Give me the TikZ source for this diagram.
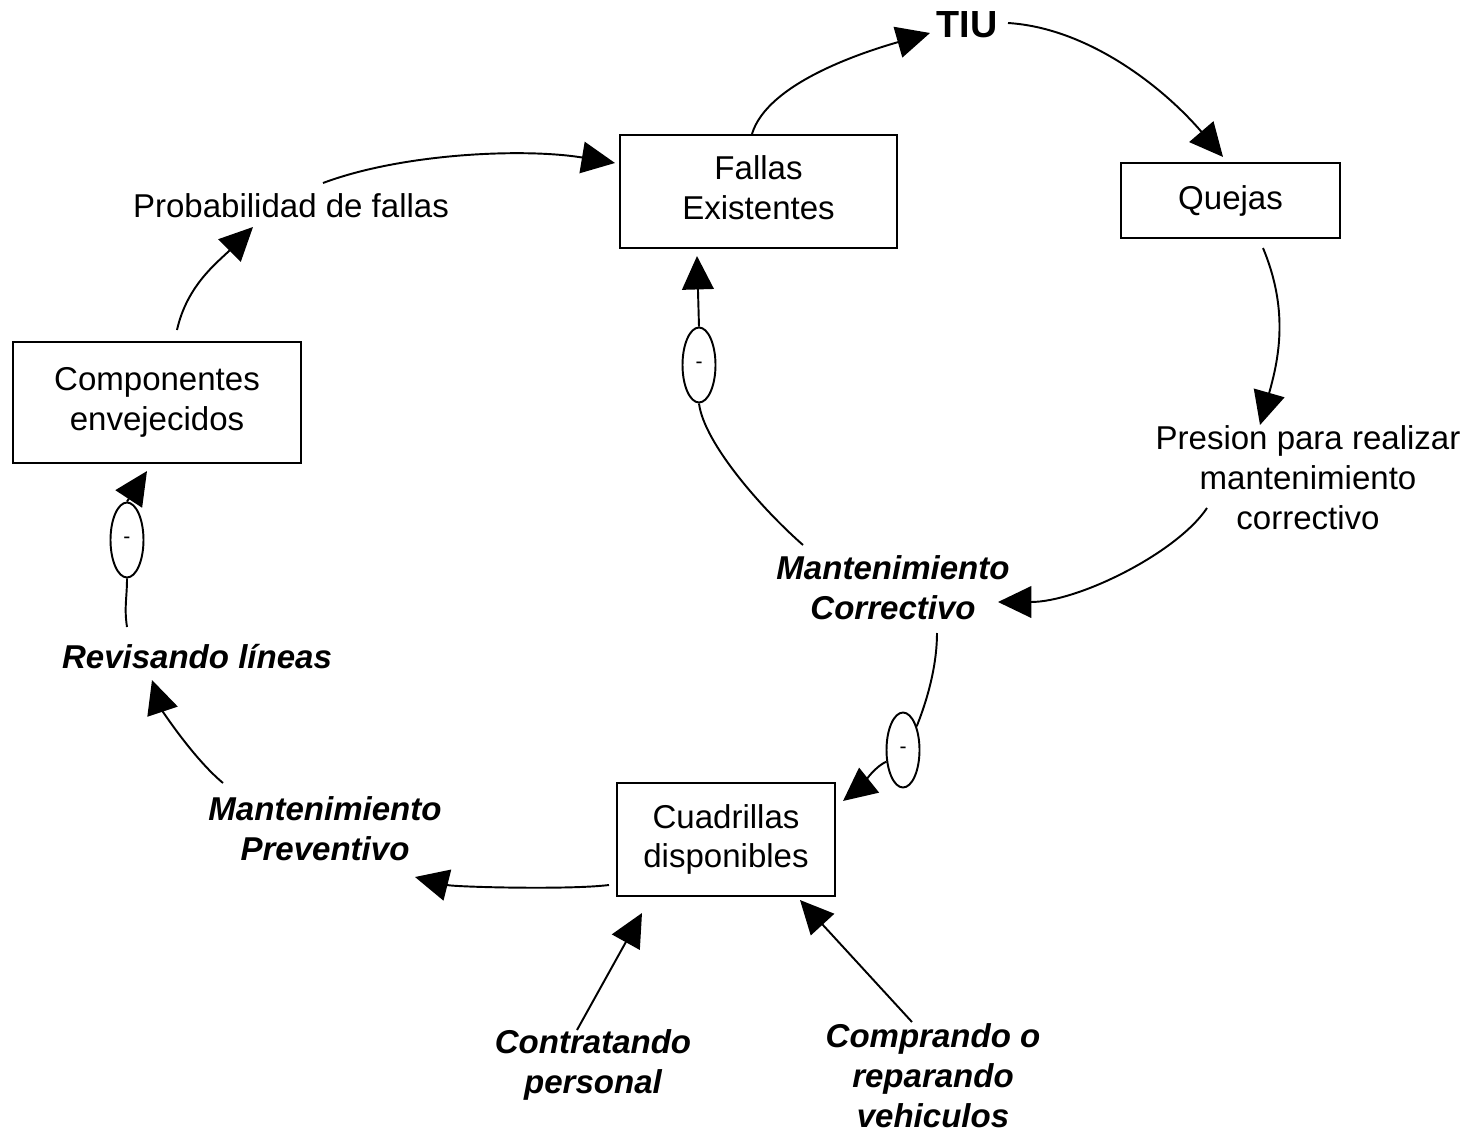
\documentclass[tikz,border=0pt]{standalone}
\usepackage{fontspec}
\setmainfont{Liberation Sans}
\usetikzlibrary{arrows.meta,shapes.geometric}
\begin{document}
\begin{tikzpicture}[x=0.02cm,y=-0.02cm,
  every node/.style={font=\fontsize{18.8}{22.7}\selectfont},
  box/.style={draw,line width=1.2pt,align=center,inner sep=0pt},
  lbl/.style={align=center,inner sep=0pt},
  act/.style={lbl,font=\fontsize{18.8}{22.7}\selectfont\bfseries\itshape},
  sgn/.style={draw,ellipse,line width=1.1pt,minimum width=0.66cm,minimum height=1.5cm,inner sep=0pt,font=\fontsize{12}{14}\selectfont},
  link/.style={line width=1.1pt,-{Triangle[length=19pt,width=18pt]}},
  plain/.style={line width=1.1pt}
]
\useasboundingbox (0,0) rectangle (1473,1135);

% boxes
\node[box,minimum width=5.54cm,minimum height=2.26cm] (fallas) at (758.5,191.5) {\raisebox{2pt}{\begin{tabular}{@{}c@{}}Fallas\\Existentes\end{tabular}}};
\node[box,minimum width=4.38cm,minimum height=1.5cm] (quejas) at (1230.5,200.5) {Quejas};
\node[box,minimum width=5.76cm,minimum height=2.42cm] (comp) at (157,402.5) {\raisebox{2.5pt}{\begin{tabular}{@{}c@{}}Componentes\\envejecidos\end{tabular}}};
\node[box,minimum width=4.36cm,minimum height=2.26cm] (cuad) at (726,839.5) {Cuadrillas\\disponibles};

% labels
\node[lbl,font=\fontsize{21.5}{26}\selectfont\bfseries] (tiu) at (967,25) {TIU};
\node[lbl] (prob) at (291,206) {Probabilidad de fallas};
\node[lbl] (pres) at (1308,478) {Presion para realizar\\mantenimiento\\correctivo};
\node[act] (mc) at (893,588) {Mantenimiento\\Correctivo};
\node[act] (rev) at (197,657) {Revisando líneas};
\node[act] (mp) at (325,829) {Mantenimiento\\Preventivo};
\node[act] (contr) at (593,1065) {Contratando\\personal};
\node[act] (compr) at (933,1076) {Comprando o\\reparando\\vehiculos};

% sign ellipses
\node[sgn] (e1) at (699,365) {-};
\node[sgn] (e2) at (903,750) {-};
\node[sgn] (e3) at (127,540) {-};

% connectors
\draw[link] ([shift={(20,-72.5)}]comp.center) .. controls +(10,-45) and +(-35,35) .. ([shift={(-38,21)}]prob.center);
\draw[link] ([shift={(32,-23)}]prob.center) .. controls +(80,-30) and +(-90,-15) .. ([shift={(-4,-28.5)}]fallas.west);
\draw[link] ([shift={(-6.5,0)}]fallas.north) .. controls +(15,-50) and +(-70,20) .. ([shift={(-37,8)}]tiu.center);
\draw[link] ([shift={(41,-2)}]tiu.center) .. controls +(80,5) and +(-60,-70) .. ([shift={(-7.5,-5)}]quejas.north);
\draw[link] ([shift={(32.5,9)}]quejas.south) .. controls +(25,60) and +(20,-70) .. ([shift={(-48,-53)}]pres.center);
\draw[link] ([shift={(-101,30)}]pres.center) .. controls +(-30,45) and +(80,0) .. ([shift={(105,14)}]mc.center);
\draw[plain] ([shift={(-90,-43)}]mc.center) .. controls +(-40,-35) and +(5,40) .. (e1.south);
\draw[link] (e1.north) -- ([shift={(-61.5,7)}]fallas.south);
\draw[plain] ([shift={(44,45)}]mc.center) .. controls +(0,30) and +(12,-30) .. (e2.60);
\draw[link] (e2.215) .. controls +(-12,5) and +(15,-12) .. ([shift={(7,19)}]cuad.north east);
\draw[link] ([shift={(-7,45.5)}]cuad.west) .. controls +(-40,5) and +(40,10) .. ([shift={(90,48)}]mp.center);
\draw[link] ([shift={(-102,-46)}]mp.center) .. controls +(-30,-25) and +(10,30) .. ([shift={(-45,23)}]rev.center);
\draw[plain] ([shift={(-70,-30)}]rev.center) .. controls +(-3,-20) and +(0,20) .. (e3.south);
\draw[link] (e3.north) -- ([shift={(-10,7)}]comp.south);
\draw[link] ([shift={(-16,-35)}]contr.center) -- ([shift={(-84,73.5)}]cuad.center);
\draw[link] ([shift={(-21,-54)}]compr.center) -- ([shift={(74,60.5)}]cuad.center);
\end{tikzpicture}
\end{document}
